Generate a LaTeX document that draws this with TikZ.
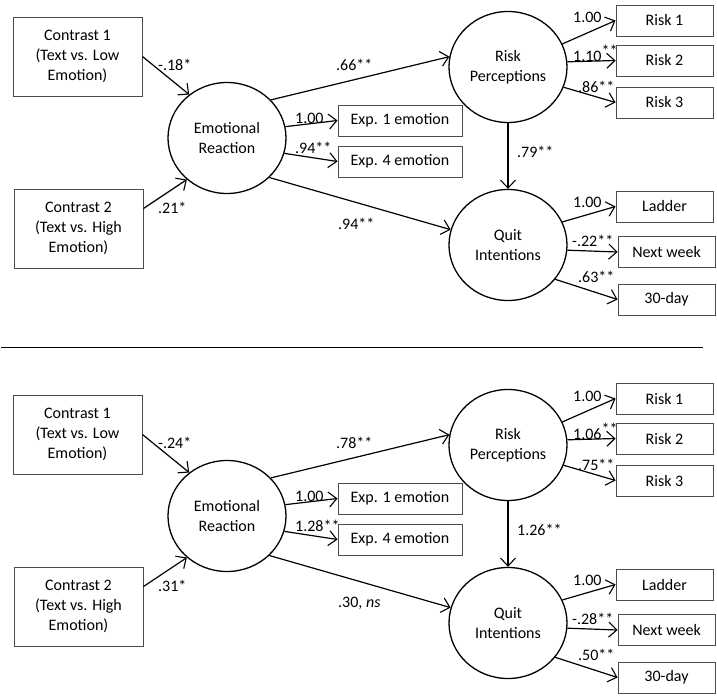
\documentclass[tikz,border=0pt]{standalone}
\usepackage{fontspec}
\setmainfont{Carlito}
\usetikzlibrary{arrows.meta,shapes.geometric}
\newcommand{\semfont}{\fontsize{16}{20}\selectfont}
\newcommand{\supstars}{\raisebox{5pt}{**}}
\tikzset{
  box/.style={draw=black!70, line width=0.9pt, rectangle, inner sep=0pt, align=center, font=\semfont},
  lat/.style={draw=black, ellipse, line width=1.3pt, minimum width=118pt, minimum height=111pt, inner sep=0pt, align=center, font=\semfont},
  conn/.style={line width=1.2pt, -{Straight Barb[length=8pt,width=15pt,line width=1.1pt]}},
  lab/.style={anchor=base west, inner sep=0pt, font=\semfont},
}
\newcommand{\sempanel}{%
  \node[box, minimum width=129pt, minimum height=79pt] (c1) at (77.5,56.5) {Contrast 1\\(Text vs. Low\\Emotion)};
  \node[box, minimum width=129pt, minimum height=79pt] (c2) at (78.5,228.5) {Contrast 2\\(Text vs. High\\Emotion)};
  \node[lat] (er) at (227,138) {Emotional\\Reaction};
  \node[lat] (rp) at (508,67) {Risk\\Perceptions};
  \node[lat] (qi) at (508,245) {Quit\\Intentions};
  \node[box, minimum width=124pt, minimum height=31pt] (e1) at (400,120.5) {Exp. 1 emotion};
  \node[box, minimum width=124pt, minimum height=31pt] (e4) at (400,161.5) {Exp. 4 emotion};
  \node[box, minimum width=97pt, minimum height=31pt] (r1) at (664.5,20.5) {Risk 1};
  \node[box, minimum width=97pt, minimum height=31pt] (r2) at (664.5,60.5) {Risk 2};
  \node[box, minimum width=97pt, minimum height=31pt] (r3) at (664.5,102.5) {Risk 3};
  \node[box, minimum width=97pt, minimum height=31pt] (ld) at (664.5,206.5) {Ladder};
  \node[box, minimum width=97pt, minimum height=31pt] (nw) at (666.5,252) {Next week};
  \node[box, minimum width=97pt, minimum height=31pt] (td) at (666.5,299.5) {30-day};
  \draw[conn] (c1.east) -- (er.131);
  \draw[conn] ([yshift=20pt]c2.east) -- (er.226);
  \draw[conn] (er.41) -- (rp.170);
  \draw[conn] (er.11) -- (e1.west);
  \draw[conn] (er.-15) -- (e4.west);
  \draw[conn] (er.-43) -- (qi.165);
  \draw[conn] (rp.south) -- (qi.north);
  \draw[conn] (rp.23) -- (r1.west);
  \draw[conn] (rp.5) -- (r2.west);
  \draw[conn] (rp.-20) -- (r3.west);
  \draw[conn] (qi.23) -- (ld.west);
  \draw[conn] (qi.-5) -- (nw.west);
  \draw[conn] (qi.-36) -- (td.west);
  \node[lab] (l1) at (158,70) {\labCa};
  \node[lab] (l2) at (158,213) {\labCb};
  \node[lab] (l3) at (336,70) {\labER};
  \node[lab] (l4) at (295,123) {1.00};
  \node[lab] (l5) at (295,153) {\labEF};
  \node[lab] (l6) at (338,229) {\labEQ};
  \node[lab] (l7) at (517,157) {\labRQ};
  \node[lab] (l8) at (573,23) {1.00};
  \node[lab] (l9) at (573,61) {\labRb};
  \node[lab] (l10) at (578,92) {\labRc};
  \node[lab] (l11) at (573,207) {1.00};
  \node[lab] (l12) at (572,246) {\labQb};
  \node[lab] (l13) at (578,282) {\labQc};
}
\begin{document}
\begin{tikzpicture}[x=1pt,y=-1pt]
  \useasboundingbox (0,0) rectangle (717,696);
  \def\labCa{-.18*}\def\labCb{.21*}\def\labER{.66**}\def\labEF{.94**}
  \def\labEQ{.94**}\def\labRQ{.79**}\def\labRb{1.10\supstars}
  \def\labRc{.86**}\def\labQb{-.22**}\def\labQc{.63**}
  \begin{scope}[name prefix=a-]
    \sempanel
  \end{scope}
  \draw[line width=1pt] (1,347) coordinate (sepl) -- (703,347) coordinate (sepr);
  \def\labCa{-.24*}\def\labCb{.31*}\def\labER{.78**}\def\labEF{1.28**}
  \def\labEQ{.30, \textit{ns}}\def\labRQ{1.26**}\def\labRb{1.06\supstars}
  \def\labRc{.75**}\def\labQb{-.28**}\def\labQc{.50**}
  \begin{scope}[name prefix=b-, yshift=-378pt]
    \sempanel
  \end{scope}
\end{tikzpicture}
\end{document}
